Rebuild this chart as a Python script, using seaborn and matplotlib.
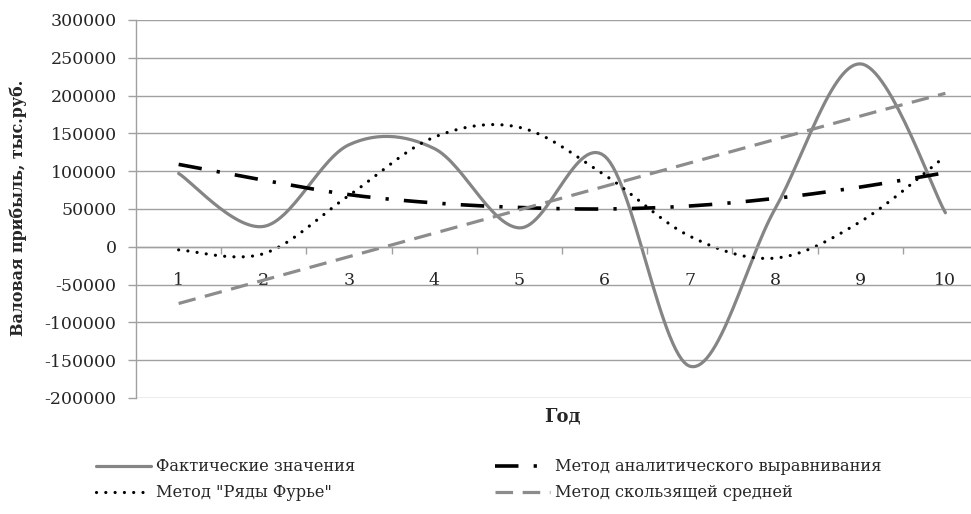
import numpy as np
import pandas as pd
import matplotlib
matplotlib.use('Agg')
import matplotlib.pyplot as plt
import seaborn as sns

# values
years = [1, 2, 3, 4, 5, 6, 7, 8, 9, 10]
actual = [97000, 27000, 135000, 130000, 25000, 120000, -158000, 50000, 242000, 45000]
analytic = [109000, 88000, 69000, 58000, 52000, 50000, 54000, 64000, 79000, 98000]
fourier = [-4000, -9000, 68000, 145000, 158000, 95000, 14000, -15000, 33000, 120000]
moving = [-75000, -44000, -13000, 18000, 49000, 80000, 111000, 142000, 173000, 203000]

labels = ['Фактические значения', 'Метод аналитического выравнивания',
          'Метод "Ряды Фурье"', 'Метод скользящей средней']


def smooth(x, y, n=30):
    # Catmull-Rom curve through the points, like a "smoothed line" in a spreadsheet chart
    p = np.column_stack([x, y]).astype(float)
    p = np.vstack([p[0], p, p[-1]])
    out = []
    t = np.linspace(0, 1, n, endpoint=False)
    for i in range(1, len(p) - 2):
        p0, p1, p2, p3 = p[i - 1], p[i], p[i + 1], p[i + 2]
        c1 = p1 + (p2 - p0) / 6
        c2 = p2 - (p3 - p1) / 6
        seg = ((1 - t) ** 3)[:, None] * p1 + (3 * (1 - t) ** 2 * t)[:, None] * c1 \
            + (3 * (1 - t) * t ** 2)[:, None] * c2 + (t ** 3)[:, None] * p2
        out.append(seg)
    out.append(p[-2][None, :])
    out = np.vstack(out)
    return out[:, 0], out[:, 1]


sns.set_style('white')
plt.rcParams['font.family'] = ['DejaVu Serif']

fig = plt.figure(figsize=(9.71, 5.14), dpi=100)
ax = fig.add_axes([0.1401, 0.2257, 0.8774, 0.7354])

styles = [
    dict(color='#858585', lw=2.3, ls='-'),
    dict(color='black', lw=2.6, ls=(0, (6.5, 4.2, 0.9, 4.2))),
    dict(color='black', lw=2.3, ls=(0, (0.01, 2.9))),
    dict(color='#8c8c8c', lw=2.3, ls=(0, (5.5, 3))),
]

lines = {}
for series, label, st in zip([actual, analytic, fourier, moving], labels, styles):
    sx, sy = smooth(years, series)
    df = pd.DataFrame({'x': sx, 'y': sy})
    sns.lineplot(data=df, x='x', y='y', sort=False, estimator=None, ax=ax,
                 color=st['color'], linewidth=st['lw'], linestyle=st['ls'], label=label)
    lines[label] = ax.lines[-1]
lines[labels[2]].set_dash_capstyle('round')

ax.set_xlim(0.5, 10.5)
ax.set_ylim(-200000, 300000)
ax.set_yticks(np.arange(-200000, 300001, 50000))
ax.set_yticklabels([str(v) for v in range(-200000, 300001, 50000)])
ax.set_xticks(years)
ax.set_xticklabels([str(v) for v in years])
ax.set_xticks(np.arange(1.5, 10.5, 1), minor=True)

ax.yaxis.grid(True, color='#a0a0a0', lw=1.0)
ax.set_axisbelow(True)
ax.spines['bottom'].set_position(('data', 0))
for s in ['top', 'right']:
    ax.spines[s].set_visible(False)
for s in ['left', 'bottom']:
    ax.spines[s].set_color('#a0a0a0')
    ax.spines[s].set_linewidth(1.0)

ax.tick_params(axis='y', which='major', length=6, color='#a0a0a0', width=1.0,
               labelsize=12.5, pad=8, left=True)
ax.tick_params(axis='x', which='major', length=0, labelsize=12.5, pad=18, bottom=True)
ax.tick_params(axis='x', which='minor', length=5, color='#a0a0a0', width=1.0, bottom=True)

ax.set_xlabel('Год', fontsize=13, fontweight='bold')
ax.xaxis.set_label_coords(0.5, -0.024, transform=ax.transAxes)
ax.xaxis.label.set_va('top')
ax.set_ylabel('Валовая прибыль, тыс.руб.', fontsize=11.4, fontweight='bold')
ax.yaxis.set_label_coords(-0.128, 0.503)

ax.get_legend().remove()
order = [labels[0], labels[2], labels[1], labels[3]]
fig.legend([lines[k] for k in order], order, loc='upper left', bbox_to_anchor=(0.09, 0.124),
           ncol=2, frameon=False, fontsize=11.7, handlelength=3.4,
           handletextpad=0.3, columnspacing=8.6, labelspacing=0.55, borderpad=0)

fig.savefig('out.png', dpi=100)
